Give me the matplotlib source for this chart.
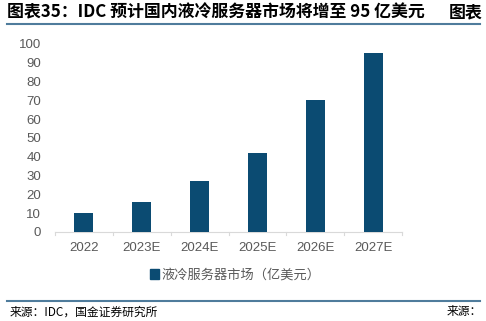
import matplotlib
matplotlib.use('Agg')
import matplotlib.pyplot as plt
from matplotlib.lines import Line2D
from matplotlib.patches import Patch

plt.rcParams['font.family'] = ['Liberation Sans', 'Noto Sans CJK SC']

years = ['2022', '2023E', '2024E', '2025E', '2026E', '2027E']
market = [10, 16, 27, 42, 70, 95]
series_name = '液冷服务器市场（亿美元）'
title = '图表35：IDC 预计国内液冷服务器市场将增至 95 亿美元'
source = '来源：IDC，国金证券研究所'

bar_color = '#0B4B72'
rule_color = '#4F7C9C'
cjk = ['Noto Sans CJK SC', 'DejaVu Sans']

fig = plt.figure(figsize=(4.86, 3.21), dpi=100)
W, H = 486, 321
ax = fig.add_axes([55 / W, 1 - 232 / H, (402 - 55) / W, (232 - 44) / H])

x = list(range(len(years)))
ax.bar(x, market, width=0.33, color=bar_color, zorder=3)
ax.set_xlim(-0.5, len(years) - 0.5)
ax.set_ylim(0, 100)
ax.set_yticks(range(0, 101, 10))
ax.set_xticks(x)
ax.set_xticklabels(years)
for s in ['top', 'right', 'left']:
    ax.spines[s].set_visible(False)
ax.spines['bottom'].set_color('#D9D9D9')
ax.tick_params(axis='y', length=0, labelsize=9.5, colors='#595959', pad=10)
ax.tick_params(axis='x', length=0, labelsize=9.5, colors='#595959', pad=7)
# category boundary tick marks
for b in [i - 0.5 for i in range(len(years) + 1)]:
    ax.plot([b, b], [0, -1.8], color='#D9D9D9', lw=0.8, clip_on=False)

fig.legend(handles=[Patch(color=bar_color)], labels=[series_name],
           loc='center left', bbox_to_anchor=(138 / W, 1 - 275 / H),
           frameon=False, handlelength=0.7, handleheight=0.7,
           handletextpad=0.2, labelcolor='#595959', prop={'family': cjk, 'size': 9.5})

fig.text(7 / W, 1 - 12 / H, title, fontsize=12.2, fontweight='bold',
         va='center', ha='left', family=cjk)
fig.text(482 / W, 1 - 12 / H, '图表', fontsize=12.2, fontweight='bold',
         va='center', ha='right', family=cjk)
fig.add_artist(Line2D([7 / W, 480 / W], [1 - 24 / H] * 2, color=rule_color, lw=1.5))
fig.add_artist(Line2D([7 / W, 480 / W], [1 - 301 / H] * 2, color=rule_color, lw=1.5))
fig.text(10 / W, 1 - 312 / H, source, fontsize=8.5, va='center', ha='left', family=cjk)
fig.text(482 / W, 1 - 312 / H, '来源：', fontsize=8.5, va='center', ha='right', family=cjk)

fig.savefig('out.png', dpi=100)
